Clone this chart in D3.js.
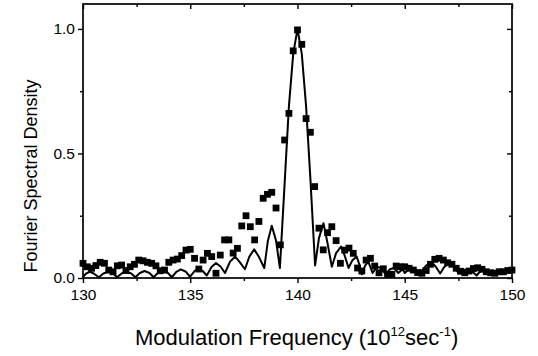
<!DOCTYPE html>
<html>
<head>
<meta charset="utf-8">
<script src="https://cdn.jsdelivr.net/npm/d3@7"></script>
<style>
  body { margin: 0; background: white; }
  text { font-family: "Liberation Sans", Arial, sans-serif; fill: black; }
</style>
</head>
<body>
<div id="chart"></div>
<script>
// measured points (squares), 0.2 steps from 130 to 150
var dataX = d3.range(101).map(function (i) { return 130 + i * 0.2; });
var dataY = [
  0.059, 0.045, 0.039, 0.050, 0.063, 0.059, 0.032, 0.025, 0.049, 0.052,
  0.030, 0.045, 0.055, 0.072, 0.069, 0.063, 0.059, 0.049, 0.029, 0.032,
  0.063, 0.072, 0.076, 0.090, 0.112, 0.115, 0.079, 0.036, 0.072, 0.099,
  0.086, 0.019, 0.092, 0.153, 0.153, 0.100, 0.119, 0.209, 0.250, 0.206,
  0.153, 0.227, 0.320, 0.336, 0.344, 0.281, 0.133, 0.554, 0.661, 0.912,
  0.996, 0.938, 0.640, 0.585, 0.367, 0.200, 0.113, 0.182, 0.206, 0.150,
  0.059, 0.112, 0.120, 0.099, 0.040, 0.028, 0.072, 0.079, 0.048, 0.021,
  0.037, 0.015, 0.015, 0.048, 0.045, 0.045, 0.039, 0.032, 0.022, 0.019,
  0.030, 0.055, 0.075, 0.079, 0.072, 0.061, 0.055, 0.039, 0.027, 0.021,
  0.028, 0.038, 0.041, 0.035, 0.025, 0.021, 0.019, 0.025, 0.025, 0.030,
  0.032
];

// calculated curve (solid line)
var curveX = [
  130.0, 130.15, 130.32, 130.5, 130.74, 130.95, 131.17, 131.4, 131.59, 131.8,
  132.0, 132.25, 132.44, 132.65, 132.87, 133.1, 133.29, 133.5, 133.7, 133.95,
  134.14, 134.35, 134.56, 134.8, 134.99, 135.2, 135.38, 135.58, 135.77, 136.0,
  136.2, 136.42, 136.62, 136.85, 137.09, 137.3, 137.55, 137.75, 137.98, 138.2,
  138.45, 138.62, 138.8, 139.0, 139.18, 139.4, 139.6, 139.8, 140.0, 140.2,
  140.4, 140.6, 140.82, 141.0, 141.21, 141.4, 141.6, 141.8, 142.03, 142.2,
  142.38, 142.55, 142.76, 142.9, 143.0, 143.15, 143.3, 143.5, 143.7, 143.9,
  144.1, 144.3, 144.5, 144.7, 144.9, 145.0, 145.2, 145.4, 145.6, 145.8,
  146.0, 146.25, 146.45, 146.65, 146.85, 147.05, 147.3, 147.5, 147.7, 147.9,
  148.1, 148.35, 148.55, 148.75, 149.0, 149.2, 149.4, 149.6, 149.8, 150.0
];
var curveY = [
  0.005, 0.018, 0.025, 0.018, 0.003, 0.018, 0.025, 0.018, 0.003, 0.018,
  0.025, 0.018, 0.003, 0.020, 0.028, 0.020, 0.003, 0.021, 0.030, 0.021,
  0.003, 0.025, 0.035, 0.025, 0.005, 0.028, 0.040, 0.028, 0.010, 0.045,
  0.060, 0.045, 0.020, 0.065, 0.086, 0.065, 0.035, 0.085, 0.115, 0.085,
  0.040, 0.150, 0.210, 0.150, 0.040, 0.380, 0.690, 0.900, 1.000, 0.900,
  0.690, 0.400, 0.050, 0.160, 0.220, 0.140, 0.045, 0.100, 0.126, 0.090,
  0.040, 0.070, 0.086, 0.050, 0.015, 0.050, 0.066, 0.020, 0.045, 0.040,
  0.015, 0.035, 0.040, 0.020, 0.035, 0.020, 0.035, 0.030, 0.015, 0.030,
  0.050, 0.065, 0.045, 0.018, 0.045, 0.062, 0.045, 0.020, 0.030, 0.035,
  0.030, 0.010, 0.030, 0.025, 0.020, 0.028, 0.020, 0.025, 0.030, 0.030
];

var xMajor = [130, 135, 140, 145, 150];
var xMinor = [132.5, 137.5, 142.5, 147.5];
var yMajor = [0.0, 0.5, 1.0];
var yMinor = [0.25, 0.75];

var W = 538, H = 356;
var margin = { top: 4, right: 26, bottom: 78, left: 83 },
   width = W - margin.left - margin.right,
   height = H - margin.top - margin.bottom;

var svg = d3.select("#chart")
   .append("svg")
   .attr("width", W)
   .attr("height", H)
   .append("g")
   .attr("transform", "translate(" + margin.left + "," + margin.top + ")");

var x = d3.scaleLinear().domain([130, 150]).range([0, width]);
var y = d3.scaleLinear().domain([0, 1.1]).range([height, 0]);

// bottom axis: major + minor ticks outward
svg.append("g")
   .attr("transform", "translate(0," + height + ")")
   .call(d3.axisBottom(x).tickValues(xMajor).tickSize(5).tickPadding(6).tickFormat(d3.format("d")))
   .call(function (g) {
      g.select(".domain").remove();
      g.selectAll("text").style("font-size", "15.5px");
   });
svg.append("g")
   .attr("transform", "translate(0," + height + ")")
   .call(d3.axisBottom(x).tickValues(xMinor).tickSize(3).tickFormat(""))
   .call(function (g) { g.select(".domain").remove(); });

// left axis
svg.append("g")
   .call(d3.axisLeft(y).tickValues(yMajor).tickSize(5).tickPadding(3).tickFormat(d3.format(".1f")))
   .call(function (g) {
      g.select(".domain").remove();
      g.selectAll("text").style("font-size", "15.5px");
   });
svg.append("g")
   .call(d3.axisLeft(y).tickValues(yMinor).tickSize(3).tickFormat(""))
   .call(function (g) { g.select(".domain").remove(); });

// top and right axes, ticks inward
svg.append("g")
   .call(d3.axisBottom(x).tickValues(xMajor).tickSize(5).tickFormat(""))
   .call(function (g) { g.select(".domain").remove(); });
svg.append("g")
   .call(d3.axisBottom(x).tickValues(xMinor).tickSize(3).tickFormat(""))
   .call(function (g) { g.select(".domain").remove(); });
svg.append("g")
   .attr("transform", "translate(" + width + ",0)")
   .call(d3.axisLeft(y).tickValues(yMajor).tickSize(5).tickFormat(""))
   .call(function (g) { g.select(".domain").remove(); });
svg.append("g")
   .attr("transform", "translate(" + width + ",0)")
   .call(d3.axisLeft(y).tickValues(yMinor).tickSize(3).tickFormat(""))
   .call(function (g) { g.select(".domain").remove(); });

svg.selectAll(".tick line").attr("stroke", "black").attr("stroke-width", 1.4);

// frame
svg.append("rect")
   .attr("width", width)
   .attr("height", height)
   .attr("fill", "none")
   .attr("stroke", "black")
   .attr("stroke-width", 1.7);

// calculated curve
var curve = curveX.map(function (d, i) { return [d, curveY[i]]; });
svg.append("path")
   .datum(curve)
   .attr("fill", "none")
   .attr("stroke", "black")
   .attr("stroke-width", 2)
   .attr("stroke-linejoin", "round")
   .attr("d", d3.line()
      .x(function (d) { return x(d[0]); })
      .y(function (d) { return y(d[1]); }));

// measured squares
var s = 6.8;
svg.append("g")
   .selectAll("rect")
   .data(dataY)
   .enter()
   .append("rect")
   .attr("x", function (d, i) { return x(dataX[i]) - s / 2; })
   .attr("y", function (d) { return y(d) - s / 2; })
   .attr("width", s)
   .attr("height", s)
   .attr("fill", "black");

// axis titles
svg.append("text")
   .attr("x", 52)
   .attr("y", height + 67)
   .style("font-size", "22px")
   .html('Modulation Frequency (10<tspan dy="-9" font-size="13px">12</tspan><tspan dy="9">sec</tspan><tspan dy="-9" font-size="13px">-1</tspan><tspan dy="9">)</tspan>');

svg.append("text")
   .attr("transform", "translate(" + (-46) + "," + (172) + ") rotate(-90)")
   .attr("text-anchor", "middle")
   .style("font-size", "18px")
   .text("Fourier Spectral Density");
</script>
</body>
</html>
